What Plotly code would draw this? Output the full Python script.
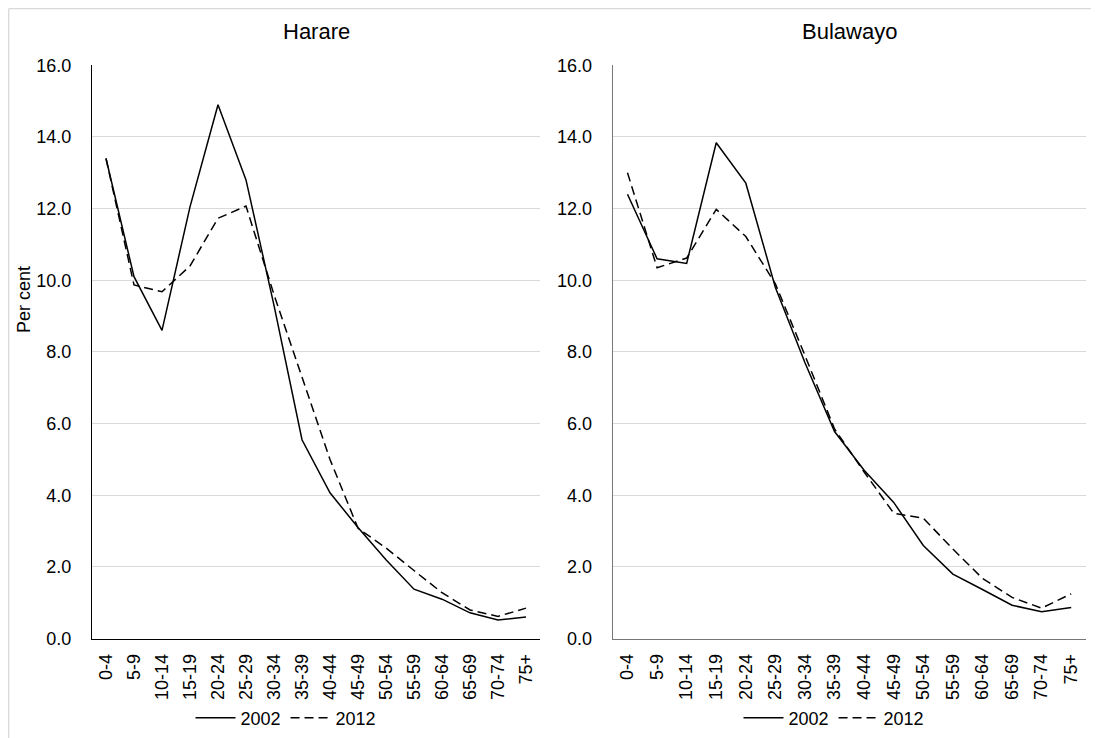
import plotly.graph_objects as go

age_groups = ["0-4", "5-9", "10-14", "15-19", "20-24", "25-29", "30-34", "35-39",
              "40-44", "45-49", "50-54", "55-59", "60-64", "65-69", "70-74", "75+"]

harare_2002 = [13.4, 10.1, 8.6, 12.05, 14.9, 12.8, 9.3, 5.55, 4.07, 3.1, 2.2, 1.38, 1.1, 0.72, 0.52, 0.6]
harare_2012 = [13.4, 9.87, 9.68, 10.4, 11.73, 12.07, 9.6, 7.3, 5.0, 3.08, 2.53, 1.9, 1.28, 0.8, 0.62, 0.85]

bulawayo_2002 = [12.4, 10.6, 10.47, 13.84, 12.71, 9.8, 7.7, 5.78, 4.7, 3.8, 2.6, 1.8, 1.37, 0.93, 0.75, 0.87]
bulawayo_2012 = [13.0, 10.35, 10.62, 11.98, 11.22, 9.9, 7.9, 5.85, 4.65, 3.5, 3.36, 2.5, 1.68, 1.15, 0.85, 1.25]

y_ticks = [0, 2, 4, 6, 8, 10, 12, 14, 16]
y_tick_text = ["0.0", "2.0", "4.0", "6.0", "8.0", "10.0", "12.0", "14.0", "16.0"]

# page has an 8px body margin, so the figure is drawn 8px in from the top-left
OFF = 8
W, H = 1099 - OFF, 738 - OFF
FONT = "Liberation Sans, Arial, sans-serif"
TICK_SIZE = 18
DASH = "9px,5px"


def px_x(p):
    return (p - OFF) / W


def px_y(p):
    return (H - (p - OFF)) / H


fig = go.Figure()

fig.add_trace(go.Scatter(x=age_groups, y=harare_2002, mode="lines", name="2002",
                         line=dict(color="black", width=1.5), xaxis="x", yaxis="y", legend="legend"))
fig.add_trace(go.Scatter(x=age_groups, y=harare_2012, mode="lines", name="2012",
                         line=dict(color="black", width=1.5, dash=DASH), xaxis="x", yaxis="y", legend="legend"))
fig.add_trace(go.Scatter(x=age_groups, y=bulawayo_2002, mode="lines", name="2002",
                         line=dict(color="black", width=1.5), xaxis="x2", yaxis="y2", legend="legend2"))
fig.add_trace(go.Scatter(x=age_groups, y=bulawayo_2012, mode="lines", name="2012",
                         line=dict(color="black", width=1.5, dash=DASH), xaxis="x2", yaxis="y2", legend="legend2"))

y_dom = [px_y(638.6), px_y(65.3)]
xd1 = [px_x(92), px_x(540)]
xd2 = [px_x(612.7), px_x(1086)]


def xaxis(domain, anchor, linecolor):
    return dict(domain=domain, anchor=anchor, type="category", range=[-0.5, 15.5],
                showline=True, linecolor=linecolor, linewidth=1.3, showgrid=False,
                tickangle=-90, ticks="", ticklabelstandoff=7,
                tickfont=dict(family=FONT, size=TICK_SIZE, color="black"),
                zeroline=False, fixedrange=True, automargin=False)


def yaxis(anchor, linecolor):
    return dict(domain=y_dom, anchor=anchor, range=[0, 16], tickvals=y_ticks, ticktext=y_tick_text,
                showline=True, linecolor=linecolor, linewidth=1.3, showgrid=True,
                gridcolor="#d9d9d9", gridwidth=1, ticks="", ticklabelstandoff=16,
                tickfont=dict(family=FONT, size=TICK_SIZE, color="black"),
                zeroline=False, fixedrange=True, automargin=False)


border = dict(color="#d9d9d9", width=1.3)

fig.update_layout(
    width=W, height=H,
    margin=dict(l=0, r=0, t=0, b=0),
    paper_bgcolor="white", plot_bgcolor="white",
    font=dict(family=FONT, size=TICK_SIZE, color="black"),
    xaxis=xaxis(xd1, "y", "black"),
    yaxis=yaxis("x", "black"),
    xaxis2=xaxis(xd2, "y2", "#767676"),
    yaxis2=yaxis("x2", "#767676"),
    legend=dict(orientation="h", x=px_x(286), y=px_y(718), xanchor="center", yanchor="middle",
                bgcolor="rgba(0,0,0,0)", font=dict(family=FONT, size=TICK_SIZE), itemwidth=40,
                tracegroupgap=0),
    legend2=dict(orientation="h", x=px_x(834), y=px_y(718), xanchor="center", yanchor="middle",
                 bgcolor="rgba(0,0,0,0)", font=dict(family=FONT, size=TICK_SIZE), itemwidth=40,
                 tracegroupgap=0),
    annotations=[
        dict(text="Harare", x=px_x(316), y=px_y(32), xref="paper", yref="paper",
             showarrow=False, font=dict(family=FONT, size=22), xanchor="center", yanchor="middle"),
        dict(text="Bulawayo", x=px_x(849), y=px_y(32), xref="paper", yref="paper",
             showarrow=False, font=dict(family=FONT, size=22), xanchor="center", yanchor="middle"),
        dict(text="Per cent", x=px_x(24), y=px_y(300), xref="paper", yref="paper",
             showarrow=False, textangle=-90, font=dict(family=FONT, size=TICK_SIZE),
             xanchor="center", yanchor="middle"),
    ],
    shapes=[
        dict(type="line", xref="paper", yref="paper", x0=0.7 / W, y0=-0.1, x1=0.7 / W, y1=(H - 0.7) / H,
             line=border, layer="below"),
        dict(type="line", xref="paper", yref="paper", x0=0.7 / W, y0=(H - 0.7) / H, x1=1.1, y1=(H - 0.7) / H,
             line=border, layer="below"),
    ],
    showlegend=True,
)

fig.write_html("out.html")
